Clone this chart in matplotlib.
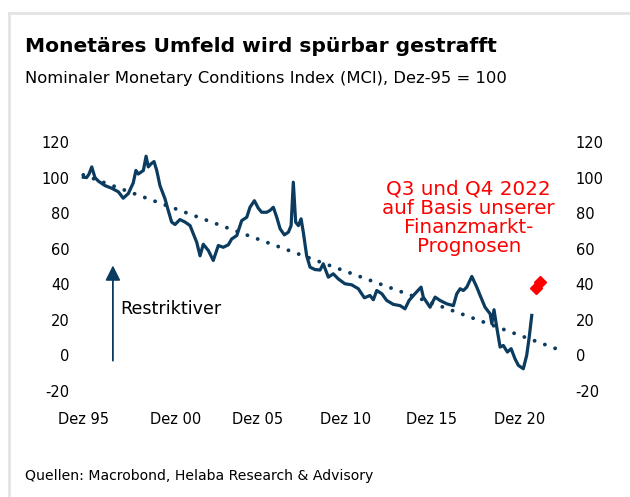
import numpy as np
import matplotlib
matplotlib.use("Agg")
import matplotlib.pyplot as plt
from matplotlib.lines import Line2D

# MCI, nominal, Dez-95 = 100 (decimal years)
jahre = [1995.92, 1996.12, 1996.26, 1996.42, 1996.61, 1996.81, 1997.20, 1997.60,
         1997.99, 1998.28, 1998.58, 1998.87, 1999.03, 1999.17, 1999.47, 1999.63,
         1999.76, 1999.92, 2000.10, 2000.26, 2000.45, 2000.75, 2000.94, 2001.14,
         2001.34, 2001.63, 2001.93, 2002.23, 2002.42, 2002.62, 2002.82, 2003.01,
         2003.31, 2003.60, 2003.90, 2004.19, 2004.49, 2004.69, 2004.99, 2005.28,
         2005.58, 2005.77, 2006.03, 2006.26, 2006.46, 2006.76, 2006.95, 2007.15,
         2007.35, 2007.55, 2007.80, 2008.04, 2008.20, 2008.33, 2008.47, 2008.63,
         2008.79, 2008.92, 2009.12, 2009.32, 2009.61, 2009.91, 2010.10, 2010.40,
         2010.69, 2010.99, 2011.38, 2011.78, 2012.17, 2012.53, 2012.86, 2013.06,
         2013.26, 2013.56, 2013.85, 2014.24, 2014.64, 2014.93, 2015.17, 2015.52,
         2015.88, 2016.01, 2016.41, 2016.71, 2017.00, 2017.40, 2017.79, 2017.99,
         2018.19, 2018.38, 2018.58, 2018.88, 2019.17, 2019.41, 2019.66, 2019.96,
         2020.06, 2020.19, 2020.35, 2020.55, 2020.74, 2020.98, 2021.20, 2021.43,
         2021.63, 2021.92, 2022.12, 2022.27, 2022.42]
mci = [100.2, 100.0, 102.0, 106.0, 100.0, 98.0, 95.5, 94.0,
       92.0, 88.4, 91.0, 97.0, 104.0, 102.0, 104.0, 112.0,
       106.0, 107.7, 109.0, 104.0, 95.5, 88.0, 81.5, 75.0,
       73.6, 76.4, 75.0, 73.0, 68.4, 63.7, 56.0, 62.5,
       59.0, 53.4, 61.8, 60.8, 62.2, 65.5, 67.4, 75.8,
       77.7, 83.3, 87.0, 82.8, 80.5, 80.5, 81.5, 83.3,
       77.7, 71.2, 67.8, 69.3, 73.0, 97.4, 74.9, 73.0,
       76.8, 69.3, 56.0, 49.6, 48.3, 48.0, 51.5, 44.0,
       45.9, 43.0, 40.3, 39.7, 37.5, 32.4, 33.7, 31.3,
       36.5, 34.7, 30.9, 28.7, 28.0, 26.2, 30.9, 34.7,
       38.4, 32.8, 27.1, 32.8, 30.9, 29.0, 28.0, 34.7,
       37.5, 36.5, 38.4, 44.4, 38.4, 32.8, 27.1, 23.4,
       17.8, 25.7, 15.9, 4.7, 5.6, 1.9, 3.8, -1.9,
       -5.6, -7.5, 0.0, 10.3, 22.5]

# Prognose Q3 / Q4 2022
prog_jahre = [2022.67, 2022.92]
prog_mci = [37.7, 41.5]

# linearer Trend
trend_jahre = [1995.92, 2023.97]
trend_mci = [101.5, 3.4]

tick_pos = [1995.92, 2001.4, 2006.2, 2011.4, 2016.5, 2021.7]
tick_lab = ["Dez 95", "Dez 00", "Dez 05", "Dez 10", "Dez 15", "Dez 20"]
y_ticks = [-20, 0, 20, 40, 60, 80, 100, 120]

blau = "#0b3b5e"
rot = "#ff0000"
plt.rcParams["font.family"] = "DejaVu Sans"
plt.rcParams["axes.unicode_minus"] = False

W, H = 630, 497
fig = plt.figure(figsize=(W / 100, H / 100), dpi=100)
ax = fig.add_axes([75 / W, (H - 391) / H, 495 / W, 249 / H])

ax.plot(trend_jahre, trend_mci, color=blau, lw=2.8,
        linestyle=(0, (0.01, 2.8)), dash_capstyle="round")
ax.plot(jahre, mci, color=blau, lw=2.3, solid_joinstyle="round")
ax.plot(prog_jahre, prog_mci, linestyle="none", marker="D", ms=6.5,
        color=rot, mec=rot)

ax.set_xlim(1995.43, 2024.68)
ax.set_ylim(-20, 120)
ax.set_yticks(y_ticks)
ax.set_xticks(tick_pos)
ax.set_xticklabels(tick_lab)
for s in ax.spines.values():
    s.set_visible(False)
ax.tick_params(axis="both", length=0, labelsize=10.5, colors="black")
ax.tick_params(axis="y", pad=4, labelleft=True, labelright=True)
ax.tick_params(axis="x", pad=15)

# Pfeil "Restriktiver"
ax.annotate("", xy=(1997.67, 52.2), xytext=(1997.67, -4.5),
            arrowprops=dict(arrowstyle="-|>,head_width=0.45,head_length=0.9",
                            color=blau, lw=1.3))
ax.text(1998.1, 26, "Restriktiver", fontsize=12.6, va="center", ha="left")

ax.text(2018.7, 77.5, "Q3 und Q4 2022\nauf Basis unserer\nFinanzmarkt-\nPrognosen",
        color=rot, fontsize=14.3, ha="center", va="center", linespacing=1.0)

fig.text(25 / W, 1 - 47 / H, "Monetäres Umfeld wird spürbar gestrafft",
         fontsize=14.6, fontweight="bold", va="center", ha="left")
fig.text(25 / W, 1 - 78 / H, "Nominaler Monetary Conditions Index (MCI), Dez-95 = 100",
         fontsize=11.8, va="center", ha="left")
fig.text(25 / W, 1 - 476 / H, "Quellen: Macrobond, Helaba Research & Advisory",
         fontsize=10.1, va="center", ha="left")

# heller Rahmen
rahmen = "#e4e4e4"
fig.add_artist(Line2D([9 / W, 9 / W], [0, 1 - 13 / H], color=rahmen, lw=2,
                      transform=fig.transFigure))
fig.add_artist(Line2D([9 / W, 1], [1 - 13 / H, 1 - 13 / H], color=rahmen, lw=2,
                      transform=fig.transFigure))

fig.savefig("out.png", dpi=100)
